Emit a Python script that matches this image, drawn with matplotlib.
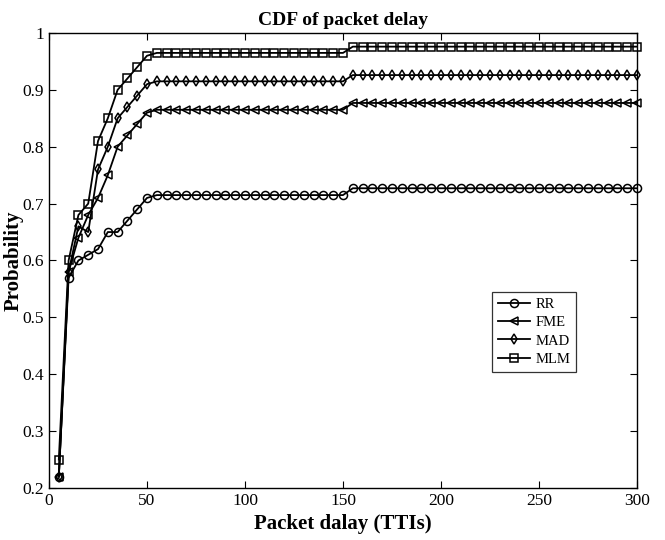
"""CDF of packet delay - RR / FME / MAD / MLM."""
import numpy as np
import matplotlib
matplotlib.use("Agg")
import matplotlib.pyplot as plt
from matplotlib.ticker import FuncFormatter

plt.rcParams['font.family'] = ['Liberation Serif', 'DejaVu Serif']

# delay axis (TTIs), one sample every 5 TTIs
delay = np.arange(5, 305, 5)

# rise 5..50, plateau 55..150, plateau 155..300
rr  = [0.22, 0.57, 0.60, 0.61, 0.62, 0.65, 0.65, 0.67, 0.69, 0.71] + [0.715] * 20 + [0.727] * 30
fme = [0.22, 0.58, 0.64, 0.68, 0.71, 0.75, 0.80, 0.82, 0.84, 0.86] + [0.865] * 20 + [0.877] * 30
mad = [0.22, 0.58, 0.66, 0.65, 0.76, 0.80, 0.85, 0.87, 0.89, 0.91] + [0.915] * 20 + [0.926] * 30
mlm = [0.25, 0.60, 0.68, 0.70, 0.81, 0.85, 0.90, 0.92, 0.94, 0.96] + [0.965] * 20 + [0.976] * 30

series = [("RR", rr, 'o'), ("FME", fme, '<'), ("MAD", mad, 'd'), ("MLM", mlm, 's')]

fig = plt.figure(figsize=(6.65, 5.4), dpi=100)
ax = fig.add_axes([0.0737, 0.0963, 0.8842, 0.8426])

for name, vals, mk in series:
    ax.plot(delay, vals, color='black', lw=1.3, marker=mk, ms=5.8 if mk != 'd' else 5.4,
            mfc='none', mec='black', mew=1.1, label=name, clip_on=False)

ax.set_xlim(0, 300)
ax.set_ylim(0.2, 1)
ax.set_xticks(np.arange(0, 301, 50))
ax.set_yticks(np.arange(0.2, 1.01, 0.1))
ax.yaxis.set_major_formatter(FuncFormatter(lambda v, p: f"{round(v, 1):g}"))
ax.tick_params(direction='in', top=True, right=True, labelsize=12.5, length=5, width=0.8)
for s in ax.spines.values():
    s.set_linewidth(1.0)

ax.set_title("CDF of packet delay", fontsize=14, fontweight='bold', pad=6)
ax.set_xlabel("Packet dalay (TTIs)", fontsize=15, fontweight='bold')
ax.set_ylabel("Probability", fontsize=15, fontweight='bold', labelpad=-1)

leg = ax.legend(loc='upper left', bbox_to_anchor=(0.753, 0.431), fontsize=10.5,
                frameon=True, fancybox=False, edgecolor='black', borderpad=0.4,
                handlelength=2.2, labelspacing=0.35, handletextpad=0.4, borderaxespad=0)
leg.get_frame().set_linewidth(0.9)

fig.savefig("out.png", dpi=100)
